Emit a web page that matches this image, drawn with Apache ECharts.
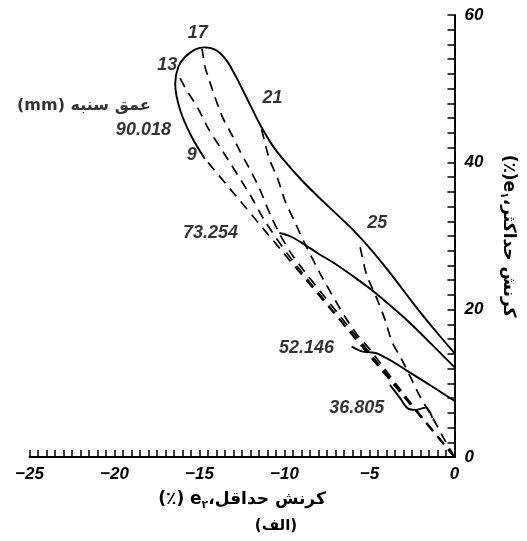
<!DOCTYPE html>
<html>
<head>
<meta charset="utf-8">
<script src="https://cdn.jsdelivr.net/npm/echarts@6/dist/echarts.min.js"></script>
<style>
html,body{margin:0;padding:0;background:#fff;}
#chart{width:527px;height:541px;}
</style>
</head>
<body>
<div id="chart"></div>
<script>
// ---- data (e2 %, e1 %) ----
var xTicks = [-25, -20, -15, -10, -5, 0];
var yTicks = [0, 20, 40, 60];

var depth90 = [[-14.69,40.5],[-15.47,43.5],[-16.14,47.1],[-16.43,50.7],[-16.24,53.0],[-15.85,54.3],[-15.27,55.3],[-14.69,55.6],[-14.01,55.2],[-13.43,53.9],[-12.85,51.6],[-12.17,48.5],[-11.48,45.3],[-10.71,42.3],[-10.0,40.2],[-9.0,37.6],[-8.0,35.3],[-7.0,33.1],[-6.0,30.9],[-5.0,28.4],[-4.0,25.6],[-3.0,22.6],[-2.0,19.6],[-1.0,16.8],[0,14.1]];
var depth73 = [[-10.3,30.4],[-9.7,30.0],[-9.0,29.1],[-8.0,27.6],[-7.0,26.2],[-6.0,24.6],[-5.0,22.9],[-4.0,21.0],[-3.0,19.0],[-2.0,16.8],[-1.0,14.5],[0,12.2]];
var depth52 = [[-6.05,15.0],[-5.4,14.3],[-4.9,14.2],[-4.5,14.0],[-3.6,12.9],[-2.85,11.8],[-1.4,9.7],[0,7.6]];
var depth36 = [[-3.8,9.8],[-3.2,8.0],[-2.75,6.6],[-2.3,6.4],[-1.7,6.7],[-1.3,5.3]];

var path9  = [[0,0],[-3.6,9.9],[-7.3,20.1],[-11.0,30.3],[-13.2,36.4],[-14.69,40.5]];
var path13 = [[0,0],[-3.5,9.7],[-7.2,20.0],[-9.8,27.5],[-11.2,32.2],[-12.0,35.5],[-13.8,42.1],[-14.49,44.6],[-15.08,47.3],[-15.76,49.8],[-16.14,51.4]];
var path17 = [[0,0],[-3.4,9.6],[-7.0,19.9],[-9.6,27.6],[-10.7,32.2],[-11.48,36.5],[-12.07,39.2],[-12.55,41.2],[-13.04,43.5],[-13.62,46.0],[-14.1,48.9],[-14.49,51.6],[-14.68,53.0],[-14.85,55.4]];
var path21 = [[0,0],[-2.5,7.1],[-4.95,14.5],[-5.76,16.7],[-6.46,19.1],[-7.74,24.2],[-8.9,29.4],[-9.45,32.2],[-9.94,34.6],[-10.42,37.9],[-10.9,40.5],[-11.35,44.5]];
var path25 = [[0,0],[-0.65,2.6],[-1.28,5.3],[-1.98,8.0],[-2.56,10.7],[-3.14,13.4],[-3.67,15.6],[-4.13,18.9],[-4.6,21.7],[-5.18,24.8],[-5.62,29.3]];

var labelTexts = ['17','13','21','25','9','90.018','73.254','52.146','36.805'];
var labelAnchors = [[-15.1,57.6],[-16.9,53.2],[-10.7,48.7],[-4.55,31.7],[-15.45,41.0],[-18.3,44.4],[-14.35,30.4],[-8.7,14.8],[-5.75,6.6]];

var depthTitle = '(mm) عمق سنبه';
var depthTitleAnchor = [-21.8, 47.7];
var xNameParts = ['(٪) e', '۲', '،کرنش حداقل'];
var yNameParts = ['(٪)e', '۱', '،کرنش حداکثر'];
var panelTag = '(الف)';

// ---- chart ----
var numFont = {fontFamily:'Liberation Sans', fontStyle:'italic', fontWeight:'bold', fontSize:17, color:'#000'};
var lblFont = {fontFamily:'Liberation Sans', fontStyle:'italic', fontWeight:'bold', fontSize:18, color:'#000'};
var faFont = 'DejaVu Sans';

function solid(d){ return {type:'line', data:d, showSymbol:false, smooth:0.35, lineStyle:{color:'#000', width:1.9}, z:3}; }
function dashed(d){ return {type:'line', data:d, showSymbol:false, smooth:0.25, lineStyle:{color:'#000', width:1.7, type:[10,7]}, z:2}; }

var labelData = labelTexts.map(function(t,i){ return {name:t, value:labelAnchors[i]}; });
labelData.push({name:depthTitle, value:depthTitleAnchor, label:{fontFamily:faFont, fontStyle:'normal', fontSize:16}});

var nameRich = {
  t:{fontFamily:faFont, fontWeight:'bold', fontSize:17, color:'#000', lineHeight:24},
  s:{fontFamily:faFont, fontWeight:'bold', fontSize:11, color:'#000', lineHeight:24, padding:[10,0,0,0]}
};

var chart = echarts.init(document.getElementById('chart'), null, {renderer:'canvas'});
chart.setOption({
  animation:false,
  backgroundColor:'#fff',
  grid:{left:29.5, right:68, top:15, bottom:84, containLabel:false},
  xAxis:{
    type:'value', min:xTicks[0], max:xTicks[xTicks.length-1], interval:5,
    axisLine:{onZero:false, lineStyle:{color:'#000', width:2}},
    axisTick:{inside:true, length:7, lineStyle:{color:'#000', width:1.5}},
    minorTick:{show:true, splitNumber:10, length:7, lineStyle:{color:'#000', width:1.5}},
    splitLine:{show:false},
    axisLabel:Object.assign({margin:9, formatter:function(v){return v<0?'−'+(-v):String(v);}}, numFont),
    name:'{t|'+xNameParts[0]+'}{s|'+xNameParts[1]+'}{t|'+xNameParts[2]+'}',
    nameLocation:'middle', nameGap:31,
    nameTextStyle:{rich:nameRich}
  },
  yAxis:{
    type:'value', position:'right', min:yTicks[0], max:yTicks[yTicks.length-1], interval:20,
    axisLine:{onZero:false, lineStyle:{color:'#000', width:2}},
    axisTick:{inside:true, length:7, lineStyle:{color:'#000', width:1.5}},
    minorTick:{show:true, splitNumber:10, length:7, lineStyle:{color:'#000', width:1.5}},
    splitLine:{show:false},
    axisLabel:Object.assign({margin:10}, numFont),
    name:'{t|'+yNameParts[0]+'}{s|'+yNameParts[1]+'}{t|'+yNameParts[2]+'}',
    nameLocation:'middle', nameGap:42, nameRotate:-90,
    nameTextStyle:{rich:nameRich}
  },
  graphic:[{type:'text', x:276, y:526, style:{text:panelTag, font:'bold 15px "DejaVu Sans"', fill:'#000', textAlign:'center', textVerticalAlign:'middle'}}],
  series:[
    solid(depth90), solid(depth73), solid(depth52), solid(depth36),
    dashed(path9), dashed(path13), dashed(path17), dashed(path21), dashed(path25),
    {type:'scatter', data:labelData, symbolSize:0, z:5, silent:true,
     label:Object.assign({show:true, position:'inside', formatter:function(p){return p.name;}}, lblFont)}
  ]
});
</script>
</body>
</html>
